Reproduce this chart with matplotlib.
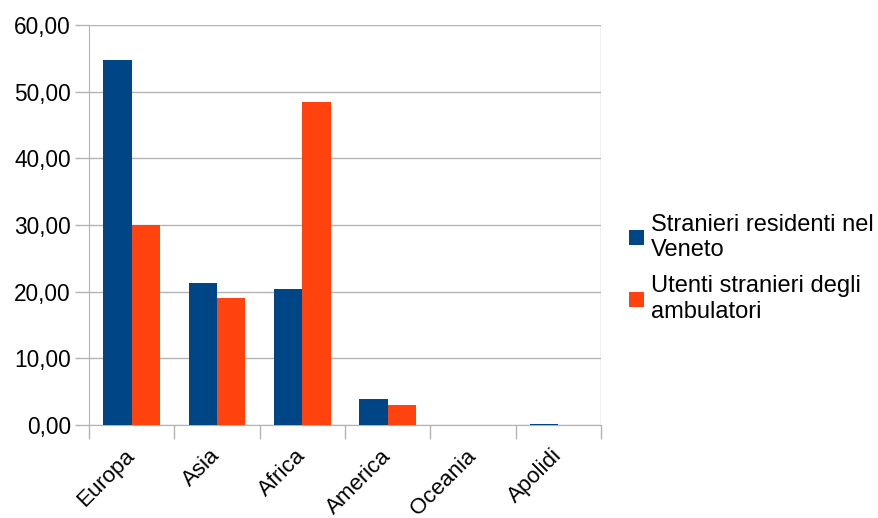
import numpy as np
import matplotlib.pyplot as plt

plt.rcParams['font.family'] = ['Liberation Sans', 'DejaVu Sans']

# Data
categories = ['Europa', 'Asia', 'Africa', 'America', 'Oceania', 'Apolidi']
residenti = [54.8, 21.35, 20.4, 3.9, 0.05, 0.15]
utenti = [29.95, 19.0, 48.45, 3.0, 0.0, 0.0]
labels = ['Stranieri residenti nel\nVeneto', 'Utenti stranieri degli\nambulatori']

blue = '#004586'
orange = '#ff420e'
grid_col = '#b3b3b3'

fig = plt.figure(figsize=(8.79, 5.18), dpi=100)
ax = fig.add_axes([89 / 879, 1 - 425 / 518, (601 - 89) / 879, 400 / 518])

x = np.arange(len(categories)) + 0.5
w = 1 / 3
ax.bar(x - w / 2, residenti, width=w, color=blue, label=labels[0], zorder=3)
ax.bar(x + w / 2, utenti, width=w, color=orange, label=labels[1], zorder=3)

ax.set_xlim(0, len(categories))
ax.set_ylim(0, 60)
yt = np.arange(0, 61, 10)
ax.set_yticks(yt)
ax.yaxis.set_major_formatter(plt.FuncFormatter(lambda v, p: ('%.2f' % v).replace('.', ',')))
ax.grid(axis='y', color=grid_col, linewidth=1, zorder=0)

# ticks at category boundaries, labels at centres
ax.set_xticks(np.arange(len(categories) + 1))
ax.set_xticklabels([])
ax.set_xticks(x, categories, minor=True)
ax.tick_params(axis='x', which='major', length=10, color=grid_col, width=1)
ax.tick_params(axis='x', which='minor', length=0, labelsize=16, pad=20)
ax.tick_params(axis='y', length=10, color=grid_col, width=1, labelsize=16.3, pad=3)
for lab in ax.get_xticklabels(minor=True):
    lab.set_rotation(45)
    lab.set_ha('right')
    lab.set_va('center')
    lab.set_rotation_mode('anchor')

for s in ['top', 'right']:
    ax.spines[s].set_visible(False)
for s in ['left', 'bottom']:
    ax.spines[s].set_color(grid_col)
ax.axvline(len(categories), color=grid_col, linewidth=1, zorder=1)

ax.legend(loc='center left', bbox_to_anchor=(620 / 879, 0.482), bbox_transform=fig.transFigure,
          frameon=False, fontsize=17, handlelength=0.6, handleheight=0.6,
          handletextpad=0.3, labelspacing=0.6, borderaxespad=0)

fig.savefig('out.png', dpi=100)
